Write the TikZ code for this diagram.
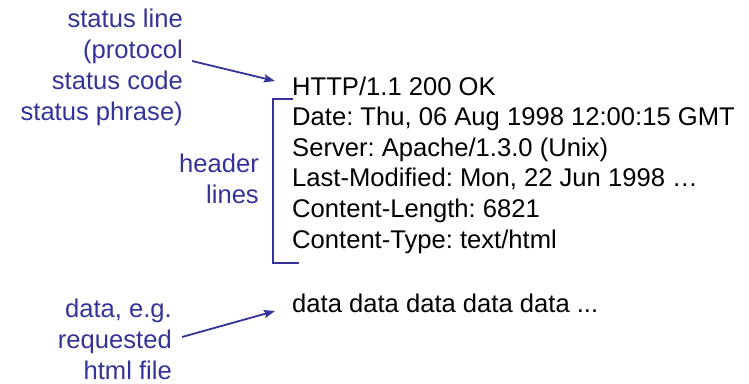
\documentclass[tikz,border=0pt]{standalone}
\usepackage{fontspec}
\setmainfont{Liberation Sans}
\usetikzlibrary{arrows.meta}
\definecolor{lblue}{RGB}{51,51,153}
\frenchspacing
\begin{document}
\begin{tikzpicture}[x=1pt,y=-1pt,
  lbl/.style={text=lblue,align=right,anchor=base east,inner sep=0pt,font=\fontsize{25.6}{31}\selectfont\frenchspacing},
  msg/.style={text=black,align=left,anchor=base west,inner sep=0pt,font=\fontsize{25.6}{30.6}\selectfont\frenchspacing},
  conn/.style={draw=lblue,line width=1.8pt,-{Stealth[length=11pt,width=8pt,inset=1.5pt]}},
  brk/.style={draw=lblue,line width=1.8pt}]
\useasboundingbox (0,0) rectangle (749,383);
\node[lbl] (status) at (183,120) {status line\\(protocol\\status code\\status phrase)};
\node[lbl] (header) at (259,203) {header\\lines};
\node[lbl] (datalbl) at (172,379) {data, e.g.\\requested\\html file};
\node[msg] (msgtext) at (292,248) {HTTP/1.1 200 OK\\Date: Thu, 06 Aug 1998 12:00:15 GMT\\Server: Apache/1.3.0 (Unix)\\Last-Modified: Mon, 22 Jun 1998 …\\Content-Length: 6821\\Content-Type: text/html};
\node[msg] (body) at (292,312) {data data data data data ...};
\coordinate (s1) at (192,61);
\coordinate (t1) at (275,81);
\coordinate (s2) at (182,337);
\coordinate (t2) at (275,311);
\draw[conn] (s1) -- (t1);
\draw[conn] (s2) -- (t2);
\coordinate (btop) at (293,99);
\coordinate (bbot) at (299,263);
\draw[brk] (btop) -| (273,263) -- (bbot);
\end{tikzpicture}
\end{document}
